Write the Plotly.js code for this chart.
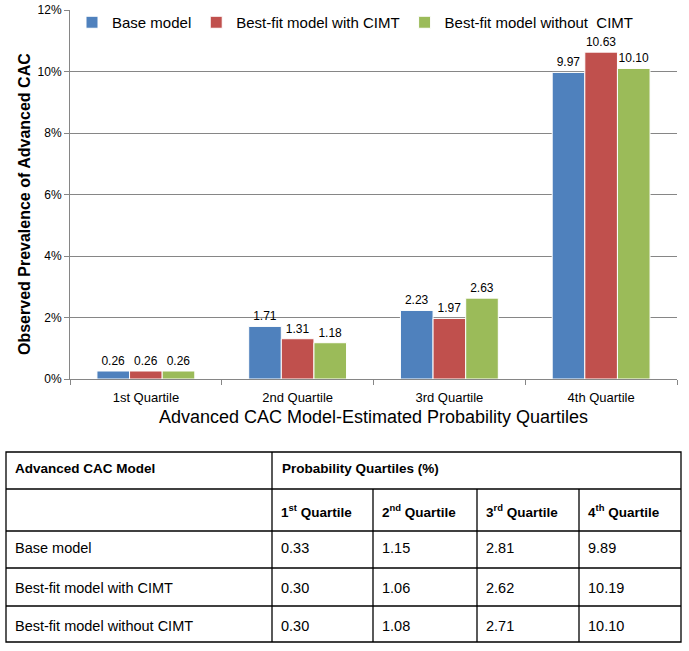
<!DOCTYPE html>
<html>
<head>
<meta charset="utf-8">
<script src="https://cdn.plot.ly/plotly-3.0.1.min.js"></script>
<style>html,body{margin:0;padding:0;background:#fff;}#chart{width:689px;height:651px;}</style>
</head>
<body>
<div id="chart"></div>
<script>
// ---- chart data ----
var categories = ['1st Quartile', '2nd Quartile', '3rd Quartile', '4th Quartile'];
var seriesNames = ['Base model', 'Best-fit model with CIMT', 'Best-fit model without  CIMT'];
var baseVals = [0.26, 1.71, 2.23, 9.97];
var withCimtVals = [0.26, 1.31, 1.97, 10.63];
var withoutCimtVals = [0.26, 1.18, 2.63, 10.10];
var yTickVals = [0, 2, 4, 6, 8, 10, 12];
var yAxisTitle = 'Observed Prevalence of Advanced CAC';
var xAxisTitle = 'Advanced CAC Model-Estimated Probability Quartiles';

// ---- table data ----
var tableTitle = 'Advanced CAC Model';
var tableGroupHeader = 'Probability Quartiles (%)';
var tableColHeaders = ['1<sup>st</sup> Quartile', '2<sup>nd</sup> Quartile', '3<sup>rd</sup> Quartile', '4<sup>th</sup> Quartile'];
var tableRowNames = ['Base model', 'Best-fit model with CIMT', 'Best-fit model without CIMT'];
var tableBase = ['0.33', '1.15', '2.81', '9.89'];
var tableWithCimt = ['0.30', '1.06', '2.62', '10.19'];
var tableWithoutCimt = ['0.30', '1.08', '2.71', '10.10'];

var colors = ['#4F81BD', '#C0504D', '#9BBB59'];
var W = 689, H = 651;
function px(x) { return x / W; }
function py(y) { return 1 - y / H; }

var FONT = 'Liberation Sans, Arial, sans-serif';

var allVals = [baseVals, withCimtVals, withoutCimtVals];
var traces = allVals.map(function (vals, i) {
  return {
    type: 'bar',
    name: seriesNames[i],
    x: categories,
    y: vals,
    marker: { color: colors[i], line: { color: '#ffffff', width: 1 } },
    text: vals.map(function (v) { return v.toFixed(2); }),
    textposition: 'outside',
    textfont: { family: FONT, size: 12, color: '#000' },
    cliponaxis: false,
    hoverinfo: 'x+y'
  };
});

// ---- table geometry ----
var tLeft = 6, tRight = 681, tTop = 452, tBottom = 642;
var colX = [272, 373, 477, 579];
var rowY = [489, 531, 568, 606];
var lineStyle = { color: '#000', width: 1.3 };
var shapes = [];
shapes.push({ type: 'rect', xref: 'paper', yref: 'paper', x0: px(tLeft), x1: px(tRight), y0: py(tTop), y1: py(tBottom), line: lineStyle });
rowY.forEach(function (y) {
  shapes.push({ type: 'line', xref: 'paper', yref: 'paper', x0: px(tLeft), x1: px(tRight), y0: py(y), y1: py(y), line: lineStyle });
});
colX.forEach(function (x, i) {
  shapes.push({ type: 'line', xref: 'paper', yref: 'paper', x0: px(x), x1: px(x), y0: py(i === 0 ? tTop : rowY[0]), y1: py(tBottom), line: lineStyle });
});

var annotations = [];
function cell(text, x, y, bold, size) {
  annotations.push({
    xref: 'paper', yref: 'paper', x: px(x), y: py(y), xanchor: 'left', yanchor: 'middle',
    text: bold ? '<b>' + text + '</b>' : text, showarrow: false,
    font: { family: FONT, size: size, color: '#000' }
  });
}
cell(tableTitle, 13, 468, true, 13.5);
cell(tableGroupHeader, 280, 468, true, 13.5);
tableColHeaders.forEach(function (t, i) { cell(t, colX[i] + 7, 511, true, 13.5); });
var tableVals = [tableBase, tableWithCimt, tableWithoutCimt];
var rowCenters = [548, 588, 626];
tableRowNames.forEach(function (name, r) {
  cell(name, 13, rowCenters[r], false, 14.5);
  tableVals[r].forEach(function (v, c) { cell(v, colX[c] + 7, rowCenters[r], false, 14.5); });
});

// y-axis title placed as a rotated annotation beside the axis
annotations.push({
  xref: 'paper', yref: 'paper', x: px(25), y: py(204), xanchor: 'center', yanchor: 'middle',
  text: '<b>' + yAxisTitle + '</b>', textangle: -90, showarrow: false,
  font: { family: FONT, size: 16, color: '#000' }
});

var layout = {
  width: W, height: H,
  margin: { l: 0, r: 0, t: 0, b: 0 },
  paper_bgcolor: '#fff', plot_bgcolor: '#fff',
  barmode: 'group', bargap: 0.355, bargroupgap: 0,
  showlegend: true,
  legend: {
    orientation: 'h', x: px(72), y: py(6), xanchor: 'left', yanchor: 'top',
    font: { family: FONT, size: 15, color: '#000' }, bgcolor: 'rgba(0,0,0,0)',
    traceorder: 'normal', itemwidth: 30
  },
  xaxis: {
    domain: [px(70), px(677)],
    anchor: 'y',
    showline: true, linecolor: '#868686', linewidth: 1,
    ticks: 'outside', tickson: 'boundaries', ticklen: 5, tickcolor: '#868686',
    ticklabelstandoff: 6,
    tickfont: { family: FONT, size: 13, color: '#000' },
    showgrid: false,
    title: { text: xAxisTitle, font: { family: FONT, size: 18, color: '#000' }, standoff: 6 },
    automargin: false, fixedrange: true
  },
  yaxis: {
    domain: [py(379), py(10)],
    range: [0, 12],
    tickvals: yTickVals, ticktext: yTickVals.map(function (v) { return v + '%'; }),
    showline: true, linecolor: '#868686', linewidth: 1,
    ticks: 'outside', ticklen: 5, tickcolor: '#868686',
    tickfont: { family: FONT, size: 12, color: '#000' },
    showgrid: true, gridcolor: '#868686', gridwidth: 1,
    zeroline: false,
    automargin: false, fixedrange: true
  },
  shapes: shapes,
  annotations: annotations
};

Plotly.newPlot('chart', traces, layout, { displayModeBar: false, staticPlot: true });
</script>
</body>
</html>
